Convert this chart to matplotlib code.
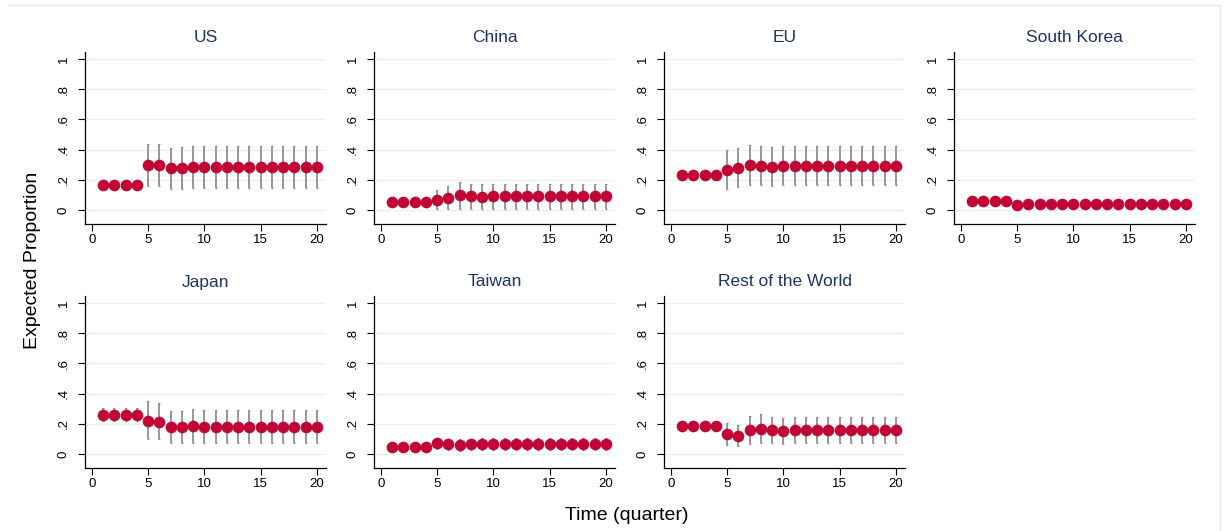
import matplotlib
matplotlib.use("Agg")
import matplotlib.pyplot as plt
from matplotlib.lines import Line2D
import numpy as np

plt.rcParams['font.family'] = ['Liberation Sans', 'DejaVu Sans']

quarters = list(range(1, 21))

regions = ["US", "China", "EU", "South Korea", "Japan", "Taiwan", "Rest of the World"]

us_mean = [0.163, 0.163, 0.163, 0.163, 0.296, 0.296, 0.276, 0.280, 0.285, 0.285,
           0.283, 0.283, 0.284, 0.283, 0.283, 0.283, 0.283, 0.283, 0.283, 0.283]
us_lo = [0.156, 0.156, 0.156, 0.156, 0.157, 0.161, 0.139, 0.139, 0.143, 0.143,
         0.144, 0.144, 0.144, 0.144, 0.144, 0.144, 0.144, 0.144, 0.144, 0.144]
us_hi = [0.170, 0.170, 0.170, 0.170, 0.440, 0.435, 0.413, 0.417, 0.424, 0.422,
         0.422, 0.422, 0.422, 0.422, 0.422, 0.422, 0.422, 0.422, 0.422, 0.422]

china_mean = [0.051, 0.051, 0.051, 0.051, 0.068, 0.079, 0.097, 0.090, 0.088, 0.090,
              0.090, 0.090, 0.090, 0.090, 0.090, 0.090, 0.090, 0.090, 0.090, 0.090]
china_lo = [0.045, 0.045, 0.045, 0.045, 0.007, 0.007, 0.009, 0.009, 0.009, 0.009,
            0.009, 0.009, 0.009, 0.009, 0.009, 0.009, 0.009, 0.009, 0.009, 0.009]
china_hi = [0.057, 0.057, 0.057, 0.057, 0.135, 0.157, 0.183, 0.174, 0.170, 0.174,
            0.174, 0.174, 0.174, 0.174, 0.174, 0.174, 0.174, 0.174, 0.174, 0.174]

eu_mean = [0.234, 0.234, 0.234, 0.234, 0.267, 0.280, 0.296, 0.291, 0.287, 0.291,
           0.291, 0.291, 0.291, 0.291, 0.291, 0.291, 0.291, 0.291, 0.291, 0.291]
eu_lo = [0.226, 0.226, 0.226, 0.226, 0.139, 0.152, 0.166, 0.163, 0.159, 0.163,
         0.163, 0.163, 0.163, 0.163, 0.163, 0.163, 0.163, 0.163, 0.163, 0.163]
eu_hi = [0.242, 0.242, 0.242, 0.242, 0.400, 0.413, 0.430, 0.422, 0.417, 0.422,
         0.422, 0.422, 0.422, 0.422, 0.422, 0.422, 0.422, 0.422, 0.422, 0.422]

korea_mean = [0.057, 0.057, 0.057, 0.057, 0.033, 0.040, 0.042, 0.042, 0.042, 0.042,
              0.042, 0.042, 0.042, 0.042, 0.042, 0.042, 0.042, 0.042, 0.042, 0.042]
korea_lo = [0.050, 0.050, 0.050, 0.050, 0.025, 0.030, 0.032, 0.032, 0.032, 0.032,
            0.032, 0.032, 0.032, 0.032, 0.032, 0.032, 0.032, 0.032, 0.032, 0.032]
korea_hi = [0.064, 0.064, 0.064, 0.064, 0.041, 0.050, 0.052, 0.052, 0.052, 0.052,
            0.052, 0.052, 0.052, 0.052, 0.052, 0.052, 0.052, 0.052, 0.052, 0.052]

japan_mean = [0.260, 0.260, 0.260, 0.260, 0.221, 0.214, 0.179, 0.179, 0.183, 0.181,
              0.181, 0.181, 0.181, 0.181, 0.181, 0.181, 0.181, 0.181, 0.181, 0.181]
japan_lo = [0.216, 0.216, 0.216, 0.216, 0.097, 0.097, 0.075, 0.075, 0.075, 0.075,
            0.075, 0.075, 0.075, 0.075, 0.075, 0.075, 0.075, 0.075, 0.075, 0.075]
japan_hi = [0.305, 0.305, 0.305, 0.305, 0.349, 0.336, 0.287, 0.287, 0.296, 0.291,
            0.291, 0.291, 0.291, 0.291, 0.291, 0.291, 0.291, 0.291, 0.291, 0.291]

taiwan_mean = [0.049, 0.049, 0.049, 0.049, 0.071, 0.064, 0.060, 0.064, 0.066, 0.066,
               0.066, 0.066, 0.066, 0.066, 0.066, 0.066, 0.066, 0.066, 0.066, 0.066]
taiwan_lo = [0.042, 0.042, 0.042, 0.042, 0.035, 0.029, 0.022, 0.026, 0.026, 0.026,
             0.026, 0.026, 0.026, 0.026, 0.026, 0.026, 0.026, 0.026, 0.026, 0.026]
taiwan_hi = [0.056, 0.056, 0.056, 0.056, 0.106, 0.100, 0.097, 0.102, 0.106, 0.106,
             0.106, 0.106, 0.106, 0.106, 0.106, 0.106, 0.106, 0.106, 0.106, 0.106]

row_mean = [0.188, 0.188, 0.188, 0.188, 0.132, 0.119, 0.159, 0.168, 0.159, 0.152,
            0.159, 0.159, 0.159, 0.159, 0.159, 0.159, 0.159, 0.159, 0.159, 0.159]
row_lo = [0.162, 0.162, 0.162, 0.162, 0.057, 0.051, 0.066, 0.071, 0.071, 0.066,
          0.071, 0.071, 0.071, 0.071, 0.071, 0.071, 0.071, 0.071, 0.071, 0.071]
row_hi = [0.212, 0.212, 0.212, 0.212, 0.207, 0.190, 0.249, 0.265, 0.243, 0.236,
          0.247, 0.247, 0.247, 0.247, 0.247, 0.247, 0.247, 0.247, 0.247, 0.247]

series = [
    (us_mean, us_lo, us_hi),
    (china_mean, china_lo, china_hi),
    (eu_mean, eu_lo, eu_hi),
    (korea_mean, korea_lo, korea_hi),
    (japan_mean, japan_lo, japan_hi),
    (taiwan_mean, taiwan_lo, taiwan_hi),
    (row_mean, row_lo, row_hi),
]

y_ticks = [0, 0.2, 0.4, 0.6, 0.8, 1.0]
y_tick_labels = ["0", ".2", ".4", ".6", ".8", "1"]
x_ticks = [0, 5, 10, 15, 20]

W, H = 1227, 531
fig = plt.figure(figsize=(W / 100, H / 100), dpi=100)
fig.patch.set_facecolor("white")

# faint outer frame (top and right edges)
frame_kw = dict(transform=fig.transFigure, color="#e6ecee", linewidth=1.0)
fig.add_artist(Line2D([9 / W, 1220 / W], [1 - 5 / H, 1 - 5 / H], **frame_kw))
fig.add_artist(Line2D([1220 / W, 1220 / W], [0, 1 - 5 / H], **frame_kw))

col_left = [85, 374, 664, 954]
row_top = [52, 296]
ax_w, ax_h = 241, 172

dot_color = "#c10534"
ci_color = "#8f8f8f"
grid_color = "#e8f0f2"
title_color = "#1f3461"

for i, (name, (m, lo, hi)) in enumerate(zip(regions, series)):
    r, c = divmod(i, 4)
    left = col_left[c] / W
    bottom = 1 - (row_top[r] + ax_h) / H
    ax = fig.add_axes([left, bottom, ax_w / W, ax_h / H])
    m = np.array(m)
    lo = np.array(lo)
    hi = np.array(hi)
    ax.errorbar(quarters, m, yerr=[m - lo, hi - m], fmt="none",
                ecolor=ci_color, elinewidth=1.3, capsize=1.0, capthick=0.9,
                zorder=2)
    ax.plot(quarters, m, "o", color=dot_color, markersize=8.4,
            markeredgewidth=0, zorder=3)
    ax.set_xlim(-0.62, 20.8)
    ax.set_ylim(-0.093, 1.046)
    ax.set_yticks(y_ticks)
    ax.set_yticklabels(y_tick_labels, rotation=90, va="center")
    ax.set_xticks(x_ticks)
    ax.tick_params(axis="both", direction="out", length=5, width=0.8,
                   labelsize=9.5, colors="black", pad=2)
    ax.tick_params(axis="y", pad=6)
    ax.grid(axis="y", color=grid_color, linewidth=1.0, zorder=0)
    ax.set_axisbelow(True)
    for s in ["top", "right"]:
        ax.spines[s].set_visible(False)
    for s in ["left", "bottom"]:
        ax.spines[s].set_linewidth(0.9)
        ax.spines[s].set_color("black")
    ax.set_facecolor("white")
    ax.text(0.5, 1 + 14 / ax_h, name, transform=ax.transAxes, ha="center",
            va="center", fontsize=12.5, color=title_color)

fig.text(33 / W, 1 - 260 / H, "Expected Proportion", rotation=90,
         ha="center", va="center", fontsize=14)
fig.text(627 / W, 1 - 516 / H, "Time (quarter)", ha="center", va="center",
         fontsize=14)

fig.savefig("out.png", dpi=100, facecolor="white")
